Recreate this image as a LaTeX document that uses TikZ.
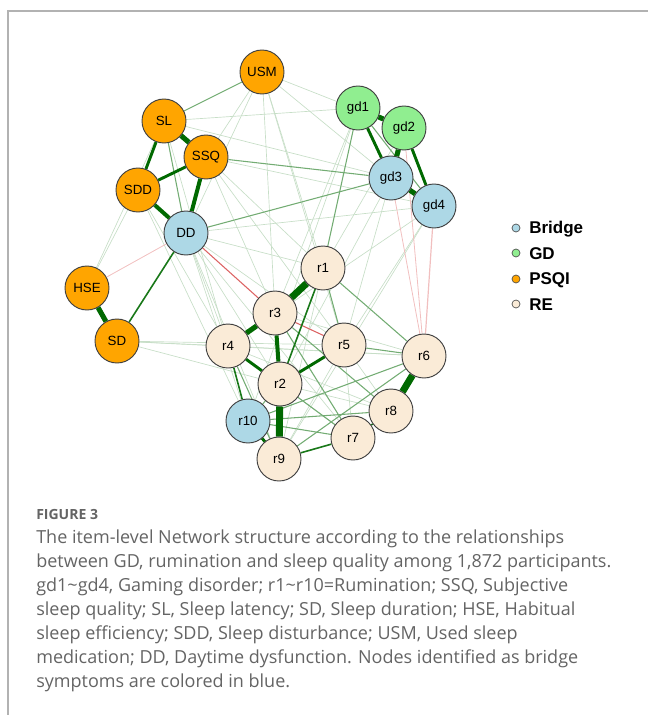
\documentclass[tikz,border=0pt]{standalone}
\usepackage{fontspec}
\setmainfont{Liberation Sans}
\newfontfamily\capfont{Open Sans}
\usetikzlibrary{backgrounds}
\definecolor{psqi}{HTML}{FFA500}
\definecolor{gdc}{HTML}{90EE90}
\definecolor{bridge}{HTML}{ADD8E6}
\definecolor{rec}{HTML}{FAEBD7}
\definecolor{posgreen}{RGB}{0,105,0}
\definecolor{negred}{RGB}{214,72,72}
\definecolor{captext}{HTML}{646464}
\begin{document}
\begin{tikzpicture}[x=0.75pt, y=-0.75pt, font=\fontsize{10}{12}\selectfont,
	item/.style={circle, draw=black!75, line width=0.7pt, minimum size=33pt, inner sep=0pt},
	key/.style={circle, draw=black!70, line width=0.5pt, minimum size=6pt, inner sep=0pt},
	w1/.style={draw=posgreen!22, line width=0.5pt},
	w2/.style={draw=posgreen!55, line width=0.8pt},
	w3/.style={draw=posgreen!90, line width=1.2pt},
	w4/.style={draw=posgreen, line width=2.2pt},
	w5/.style={draw=posgreen, line width=3pt},
	w6/.style={draw=posgreen, line width=3.8pt},
	w7/.style={draw=posgreen, line width=5.2pt},
	n1/.style={draw=negred!35, line width=0.6pt},
	n2/.style={draw=negred!85, line width=0.8pt}]
	\useasboundingbox (0,0) rectangle (648,715);
	\draw[gray!60, line width=1pt] (8,715)--(8,11)--(648,11);
	% nodes
	\foreach \n/\x/\y in {USM/262/72, SL/164/121, SSQ/206/157, SDD/138/190, HSE/87/288, SD/117/341}
		\node[item, fill=psqi] (\n) at (\x,\y) {\n};
	\foreach \n/\x/\y in {gd1/358/108, gd2/404/128}
		\node[item, fill=gdc] (\n) at (\x,\y) {\n};
	\foreach \n/\x/\y in {DD/186/233, gd3/391/178, gd4/434/206, r10/248/421}
		\node[item, fill=bridge] (\n) at (\x,\y) {\n};
	\foreach \n/\x/\y in {r1/323/268, r3/275/313, r4/228/346, r5/344/345, r6/424/356, r2/280/384, r8/391/411, r7/353/438, r9/279/459}
		\node[item, fill=rec] (\n) at (\x,\y) {\n};
	% edges
	\begin{pgfonlayer}{background}
	\foreach \a/\b in {SSQ/USM, USM/DD, USM/r3, USM/r5, USM/gd2, USM/gd3, USM/r1, SL/gd1, SL/gd3, SL/r4, SSQ/gd4, SSQ/r1, SSQ/r3, SSQ/r5,
		SDD/r4, SDD/r10, SDD/HSE, HSE/SL, SD/r4, SD/r5, SD/r6, SD/r2, DD/r4, DD/r2, DD/r10, DD/r9, DD/r7, DD/r5, DD/r1, DD/gd4,
		gd1/r3, gd1/r10, gd3/r2, gd3/r5, gd4/r5, gd4/r4, gd4/r9, gd2/r1, r5/r7, r5/r9, r1/r9, r5/r8, r4/r7, r3/r9, r3/r6, r4/r6, r2/r8, r4/r8}
		\draw[w1] (\a)--(\b);
	\foreach \a/\b in {HSE/DD, gd3/r6, gd2/r6}
		\draw[n1] (\a)--(\b);
	\draw[n1, line width=0.9pt] (gd4)--(r6);
	\foreach \a/\b in {DD/r3, r3/r5}
		\draw[n2] (\a)--(\b);
	\foreach \a/\b in {r10/r8, r5/r6, r1/r6, r1/r5, r4/r9, r2/r7, r3/r7, r2/r10, r6/r9, r6/r10, r10/r7, SL/DD, SL/USM, gd1/r1, DD/gd3, SSQ/gd3, gd1/gd4, r3/r8}
		\draw[w2] (\a)--(\b);
	\foreach \a/\b in {r1/r2, r4/r10, r8/r7, r7/r9, SD/DD}
		\draw[w3] (\a)--(\b);
	\foreach \a/\b in {SL/SDD, SSQ/SDD, gd1/gd3, gd2/gd4, r4/r2, r5/r2, r9/r10}
		\draw[w4] (\a)--(\b);
	\foreach \a/\b in {SSQ/DD, SDD/DD, r3/r2}
		\draw[w5] (\a)--(\b);
	\foreach \a/\b in {SL/SSQ, HSE/SD, gd1/gd2, gd2/gd3, gd3/gd4, r3/r4}
		\draw[w6] (\a)--(\b);
	\foreach \a/\b in {r1/r3, r2/r9, r6/r8}
		\draw[w7] (\a)--(\b);
	\end{pgfonlayer}
	% legend
	\foreach \c/\t/\y in {bridge/Bridge/228, gdc/GD/253, psqi/PSQI/279, rec/RE/304}{
		\node[key, fill=\c] (k\t) at (516,\y) {};
		\node[anchor=west, inner sep=0pt, font=\fontsize{12.75}{14}\selectfont\bfseries] (l\t) at (529,\y+1) {\t};
	}
	% caption
	\node[anchor=north west, inner sep=0pt, text=captext, font=\capfont\bfseries\fontsize{10.5}{12}\selectfont] (fig) at (36,509) {FIGURE 3};
	\node[anchor=north west, inner sep=0pt, align=left, text=captext, font=\capfont\fontsize{13.5}{18}\selectfont] (cap) at (36,530)
		{The item-level Network structure according to the relationships\\
		between GD, rumination and sleep quality among 1,872 participants.\\
		gd1\textasciitilde gd4, Gaming disorder; r1\textasciitilde r10=Rumination; SSQ, Subjective\\
		sleep quality; SL, Sleep latency; SD, Sleep duration; HSE, Habitual\\
		sleep efficiency; SDD, Sleep disturbance; USM, Used sleep\\
		medication; DD, Daytime dysfunction. Nodes identified as bridge\\
		symptoms are colored in blue.};
\end{tikzpicture}
\end{document}
